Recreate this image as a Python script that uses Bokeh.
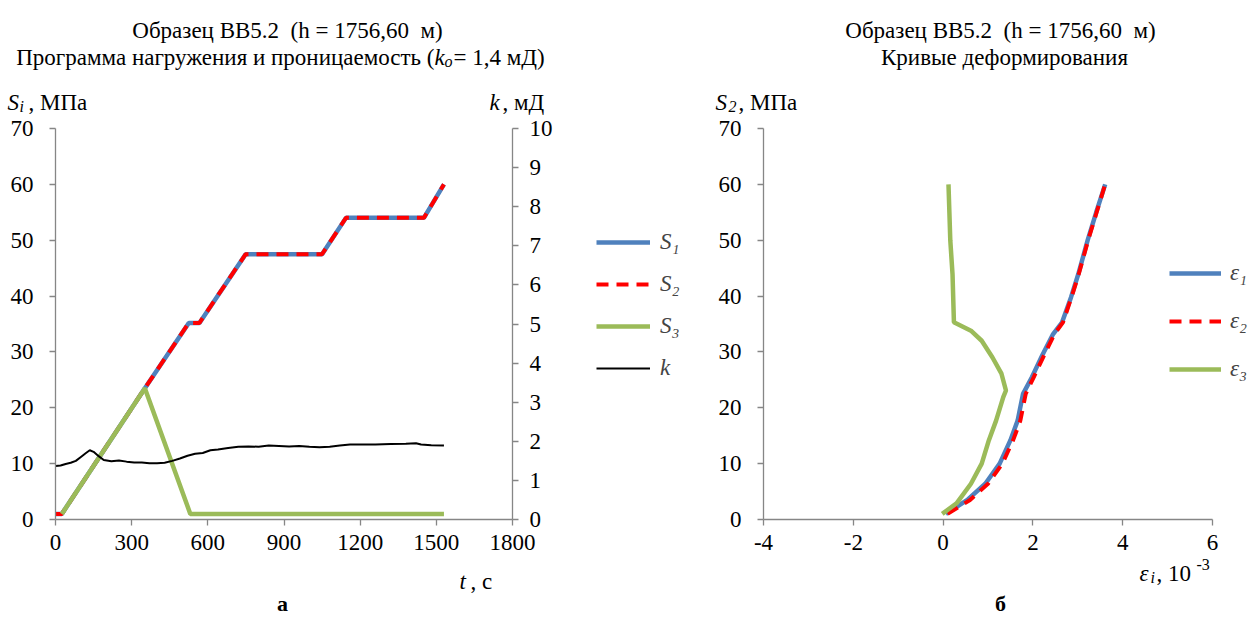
from bokeh.plotting import figure
from bokeh.models import (Range1d, LinearAxis, Legend, LegendItem, Label,
                          SingleIntervalTicker, PrintfTickFormatter)
from bokeh.layouts import row
from bokeh.embed import file_html
from bokeh.resources import INLINE

FONT = "Liberation Serif"
AXC = "#868686"
BLUE = "#4F81BD"
RED = "#FF0000"
GREEN = "#9BBB59"

# ---------- left chart: loading programme and permeability ----------
t_s12 = [0, 25, 352, 525, 567, 749, 1050, 1144, 1451, 1530]
S1 = [1, 1, 23.5, 35.2, 35.2, 47.5, 47.5, 54, 54, 60]
S2 = [1, 1, 23.5, 35.2, 35.2, 47.5, 47.5, 54, 54, 60]
t_s3 = [25, 352, 531, 1530]
S3 = [1, 23.5, 1, 1]
t_k = [0, 20, 40, 60, 80, 100, 120, 135, 150, 170, 190, 220, 250, 280, 310, 340,
       370, 400, 430, 460, 490, 520, 550, 580, 610, 640, 680, 720, 760, 800, 840,
       880, 920, 960, 1000, 1040, 1080, 1120, 1160, 1200, 1260, 1320, 1380, 1420,
       1440, 1480, 1530]
k = [1.37, 1.38, 1.42, 1.45, 1.50, 1.60, 1.70, 1.77, 1.73, 1.62, 1.52, 1.49, 1.51,
     1.48, 1.46, 1.46, 1.44, 1.44, 1.45, 1.50, 1.56, 1.63, 1.68, 1.70, 1.77, 1.79,
     1.83, 1.86, 1.87, 1.86, 1.89, 1.88, 1.87, 1.88, 1.86, 1.85, 1.86, 1.89, 1.92,
     1.92, 1.92, 1.93, 1.94, 1.95, 1.92, 1.90, 1.89]

# ---------- right chart: deformation curves ----------
S_e12 = [1, 3.5, 6.4, 10, 14.2, 17.7, 22.5, 25.5, 29.6, 33.2, 35.3, 39.8, 43.9, 50, 55, 60]
eps1 = [0.06, 0.54, 0.94, 1.26, 1.50, 1.66, 1.78, 1.98, 2.22, 2.45, 2.65, 2.85, 3.01, 3.22, 3.41, 3.61]
eps2 = [0.10, 0.60, 1.00, 1.32, 1.56, 1.72, 1.84, 2.02, 2.26, 2.48, 2.67, 2.86, 3.02, 3.23, 3.42, 3.61]
S_e3 = [1, 2.9, 6.4, 10, 14.2, 17.7, 21.9, 23.1, 26.1, 29.0, 32.0, 33.8, 35.3, 35.6, 43.9, 50, 55, 60]
eps3 = [-0.02, 0.30, 0.62, 0.86, 1.02, 1.18, 1.34, 1.40, 1.30, 1.10, 0.86, 0.62, 0.24, 0.24, 0.21, 0.16, 0.14, 0.12]

TICK_SIZE = "23px"
TITLE_SIZE = "23px"
SUB_SIZE = "16px"

H = 615            # canvas height
Y0_PX, Y70_PX = 519, 128           # page y of S = 0 and S = 70
PXU = (Y0_PX - Y70_PX) / 70.0
Y_START = -(H - Y0_PX) / PXU
Y_END = 70 + Y70_PX / PXU

# left canvas: page x 0..W1, axis 0 -> 55, 1800 -> 512
W1 = 705
X1_L, X1_R = 55, 512
SX1 = (X1_R - X1_L) / 1800.0
# right canvas: page x W1..1257, axis -4 -> 763, 6 -> 1212
OFF2 = W1
W2 = 1257 - W1
X2_L, X2_R = 763 - OFF2, 1212 - OFF2
SX2 = (X2_R - X2_L) / 10.0


def style_axis(ax, interval, standoff, loc, bounds):
    ax.ticker = SingleIntervalTicker(interval=interval)
    ax.formatter = PrintfTickFormatter(format="%d")
    ax.fixed_location = loc
    ax.bounds = bounds
    ax.axis_line_color = AXC
    ax.axis_line_width = 1.3
    ax.major_tick_line_color = AXC
    ax.major_tick_line_width = 1.3
    ax.major_tick_out = 6
    ax.major_tick_in = 0
    ax.minor_tick_line_color = None
    ax.major_label_text_font = FONT
    ax.major_label_text_font_size = TICK_SIZE
    ax.major_label_text_color = "black"
    ax.major_label_standoff = standoff


def make_fig(w, xr):
    p = figure(frame_width=w, frame_height=H, min_border=0,
               x_range=xr, y_range=Range1d(Y_START, Y_END),
               output_backend="svg", toolbar_location=None)
    p.outline_line_color = None
    p.xgrid.visible = False
    p.ygrid.visible = False
    p.background_fill_color = "white"
    p.border_fill_color = "white"
    return p


def lab(p, X, Y, text, size=TITLE_SIZE, style="normal", align="left"):
    # X: px from the left of this canvas, Y: baseline px from the top
    p.add_layout(Label(x=X, y=H - Y, x_units="screen", y_units="screen",
                       text=text, text_font=FONT, text_font_size=size,
                       text_font_style=style, text_align=align,
                       text_baseline="alphabetic", text_color="black"))


# ================= left figure =================
p1 = make_fig(W1, Range1d(-X1_L / SX1, 1800 + (W1 - X1_R) / SX1))
p1.extra_y_ranges = {"k": Range1d(Y_START / 7.0, Y_END / 7.0)}
style_axis(p1.xaxis[0], 300, 9, 0, (0, 1800))
style_axis(p1.yaxis[0], 10, 16, 0, (0, 70))
kax = LinearAxis(y_range_name="k")
style_axis(kax, 1, 11, 1800, (0, 10))
p1.add_layout(kax, "right")

r1 = p1.line(t_s12, S1, line_color=BLUE, line_width=4.5)
r2 = p1.line(t_s12, S2, line_color=RED, line_width=4, line_dash="12 8")
r3 = p1.line(t_s3, S3, line_color=GREEN, line_width=4.5)
r4 = p1.line(t_k, k, line_color="black", line_width=2, y_range_name="k")

leg1 = Legend(items=[LegendItem(label="S\u2081", renderers=[r1]),
                     LegendItem(label="S\u2082", renderers=[r2]),
                     LegendItem(label="S\u2083", renderers=[r3]),
                     LegendItem(label="k", renderers=[r4])],
              location=(596, H - 381), border_line_color=None, background_fill_alpha=0,
              padding=0, margin=0, glyph_width=54, glyph_height=20, label_height=20,
              spacing=16, label_standoff=10, label_text_font=FONT,
              label_text_font_size="23px", label_text_font_style="italic")
p1.add_layout(leg1)

lab(p1, 287, 30, "Образец ВВ5.2 \u00a0(h = 1756,60 \u00a0м)", align="center")
lab(p1, 434, 57, "Программа нагружения и проницаемость (", align="right")
lab(p1, 434, 57, "k", style="italic")
lab(p1, 444, 61, "o", SUB_SIZE, style="italic")
lab(p1, 453, 57, "= 1,4 мД)")
lab(p1, 7, 102, "S", style="italic")
lab(p1, 19, 106, "i", SUB_SIZE, style="italic")
lab(p1, 28, 102, ", МПа")
lab(p1, 489, 102, "k", style="italic")
lab(p1, 502, 102, ", мД")
lab(p1, 459, 581, "t", style="italic")
lab(p1, 470, 581, ", с")
lab(p1, 282, 603, "а", "22px", style="bold", align="center")

# ================= right figure =================
p2 = make_fig(W2, Range1d(-4 - X2_L / SX2, 6 + (W2 - X2_R) / SX2))
style_axis(p2.xaxis[0], 2, 9, 0, (-4, 6))
style_axis(p2.yaxis[0], 10, 16, -4, (0, 70))

q1 = p2.line(eps1, S_e12, line_color=BLUE, line_width=4.5)
q2 = p2.line(eps2, S_e12, line_color=RED, line_width=4, line_dash="12 8")
q3 = p2.line(eps3, S_e3, line_color=GREEN, line_width=4.5)

leg2 = Legend(items=[LegendItem(label="\u03b5\u2081", renderers=[q1]),
                     LegendItem(label="\u03b5\u2082", renderers=[q2]),
                     LegendItem(label="\u03b5\u2083", renderers=[q3])],
              location=(1169 - OFF2, H - 382), border_line_color=None, background_fill_alpha=0,
              padding=0, margin=0, glyph_width=52, glyph_height=20, label_height=20,
              spacing=22, label_standoff=9, label_text_font=FONT,
              label_text_font_size="23px", label_text_font_style="italic")
p2.add_layout(leg2)

lab(p2, 1000 - OFF2, 30, "Образец ВВ5.2 \u00a0(h = 1756,60 \u00a0м)", align="center")
lab(p2, 1004 - OFF2, 57, "Кривые деформирования", align="center")
lab(p2, 715 - OFF2, 102, "S", style="italic")
lab(p2, 728 - OFF2, 106, "2", SUB_SIZE, style="italic")
lab(p2, 738 - OFF2, 102, ", МПа")
lab(p2, 1139 - OFF2, 573, "\u03b5", style="italic")
lab(p2, 1150 - OFF2, 577, "i", SUB_SIZE, style="italic")
lab(p2, 1156 - OFF2, 573, ", 10")
lab(p2, 1196 - OFF2, 564, "-3", SUB_SIZE)
lab(p2, 1000 - OFF2, 603, "б", "22px", style="bold", align="center")

layout = row(p1, p2)
open("out.html", "w").write(file_html(layout, INLINE))
